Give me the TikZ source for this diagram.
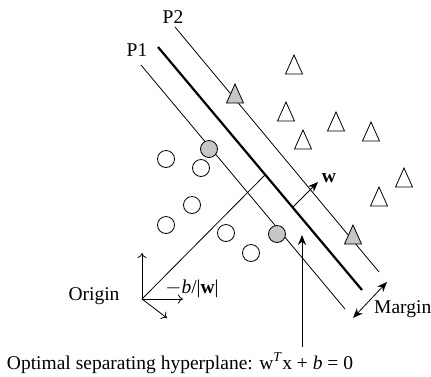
\documentclass[tikz,border=0pt]{standalone}
\usepackage{fontspec}
\setmainfont{Liberation Serif}
\usetikzlibrary{arrows.meta}
\begin{document}
\begin{tikzpicture}[x=1pt,y=-1pt,
  thinline/.style={line width=0.8pt},
  thickline/.style={line width=2.2pt},
  pt/.style={circle,draw,line width=0.8pt,minimum size=17pt,inner sep=0pt},
  graypt/.style={pt,fill=gray!45},
  lbl/.style={font=\fontsize{19.5}{21}\selectfont,inner sep=0pt},
  fa/.style={-{Stealth[length=10pt,width=8pt]},line width=0.8pt},
  oa/.style={-{To[length=5pt,width=9pt]},line width=0.8pt},
  tri/.pic={\draw[line width=0.8pt,fill=#1] (0,-10)--(-8.5,9)--(8.5,9)--cycle;}]
\useasboundingbox (0,0) rectangle (431,376);
% hyperplanes
\coordinate (p1a) at (141,65);  \coordinate (p1b) at (345,309);
\coordinate (ha) at (158,47);   \coordinate (hb) at (362,290);
\coordinate (p2a) at (175,27);  \coordinate (p2b) at (379,272);
\draw[thinline] (p1a) -- (p1b);
\draw[thickline] (ha) -- (hb);
\draw[thinline] (p2a) -- (p2b);
\node[lbl] (P1) at (137,50) {P1};
\node[lbl] (P2) at (173,17) {P2};
% origin
\coordinate (O) at (142,299);
\coordinate (oup) at (142,253);
\coordinate (oright) at (183,299);
\coordinate (odown) at (167,318);
\coordinate (hfoot) at (265,175);
\draw[thinline] (O) -- (hfoot);
\draw[oa] (O) -- (oup);
\draw[oa] (O) -- (oright);
\draw[oa] (O) -- (odown);
\node[lbl] (origin) at (94,296) {Origin};
\node[lbl] (bw) at (192,289) {$-$\textit{b}/|\textbf{w}|};
% w vector
\coordinate (wa) at (293,207);
\coordinate (wb) at (318,182);
\draw[fa] (wa) -- (wb);
\node[lbl] (w) at (329,178) {\textbf{w}};
% margin
\coordinate (ma) at (353,318);
\coordinate (mb) at (387,282);
\draw[{Stealth[length=10pt,width=8pt]}-{Stealth[length=10pt,width=8pt]},line width=0.8pt] (ma) -- (mb);
\node[lbl,anchor=west] (margin) at (374,309) {Margin};
% optimal hyperplane label
\node[lbl] (opt) at (180,363) {Optimal separating hyperplane: w\textsuperscript{\textit{T}}x + \textit{b} = 0};
\coordinate (va) at (302,347);
\coordinate (vb) at (302,235);
\draw[fa] (va) -- (vb);
% circles
\node[graypt] (c1) at (209,149) {};
\node[graypt] (c2) at (277,234) {};
\node[pt] (c3) at (166,159) {};
\node[pt] (c4) at (201,168) {};
\node[pt] (c5) at (192,205) {};
\node[pt] (c6) at (166,225) {};
\node[pt] (c7) at (226,233) {};
\node[pt] (c8) at (251,253) {};
% triangles
\pic at (235,94) {tri=gray!45};
\pic at (353,235) {tri=gray!45};
\pic at (294,65) {tri=white};
\pic at (286,112) {tri=white};
\pic at (336,122) {tri=white};
\pic at (303,140) {tri=white};
\pic at (371,132) {tri=white};
\pic at (404,178) {tri=white};
\pic at (379,197) {tri=white};
\end{tikzpicture}
\end{document}
